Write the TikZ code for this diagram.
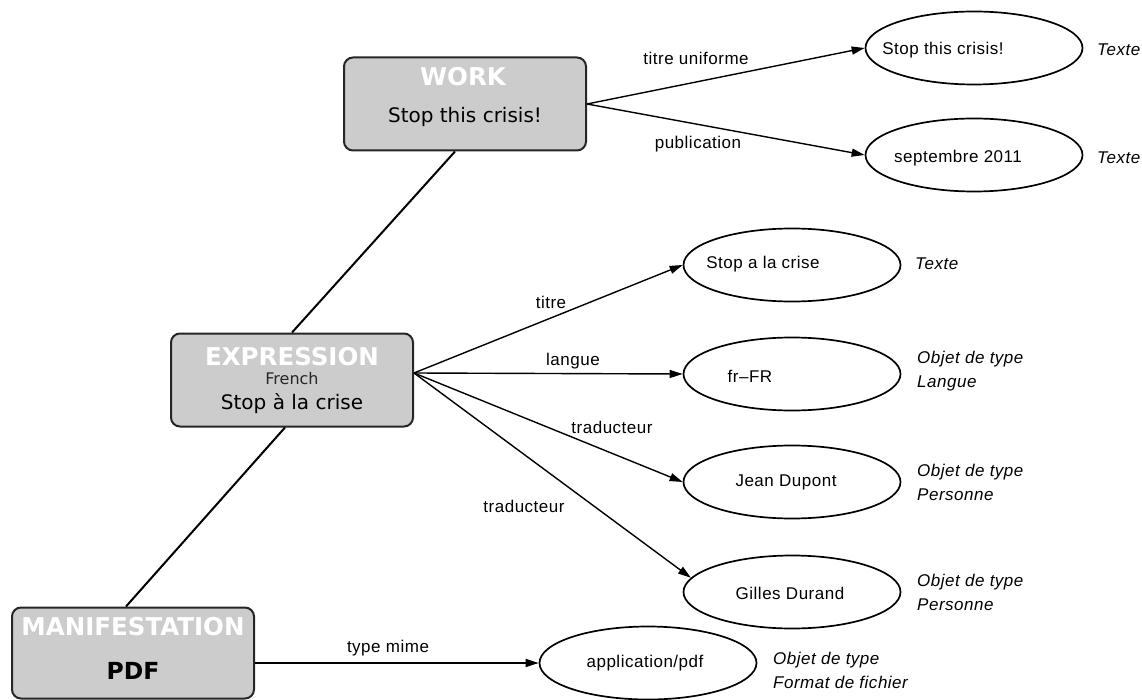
\documentclass[tikz,border=0pt]{standalone}
\usepackage{fontspec}
\setmainfont{Liberation Sans}[LetterSpace=3]
\newfontfamily\boxfont{DejaVu Sans}
\usetikzlibrary{arrows.meta,shapes.geometric,calc}

\begin{document}
\begin{tikzpicture}[x=1pt,y=-1pt,
  frbr/.style={draw=black!85, line width=2pt, fill=black!20, rounded corners=9pt,
               minimum width=242pt, minimum height=93pt, inner sep=0pt},
  val/.style={draw, ellipse, line width=1.7pt, minimum width=217pt, minimum height=73pt, inner sep=0pt},
  lbl/.style={font=\fontsize{17}{20}\selectfont, inner sep=0pt},
  typ/.style={font=\fontsize{17}{24}\selectfont\itshape, align=left, anchor=west, inner sep=0pt},
  rel/.style={line width=1.4pt, -{Triangle[length=13pt,width=8pt]}},
  link/.style={line width=2pt},
  ttl/.style={font=\boxfont\bfseries\fontsize{24.5}{28}\selectfont, text=white, inner sep=0pt},
  sub/.style={font=\boxfont\fontsize{20}{24}\selectfont, inner sep=0pt},
]
\useasboundingbox (0,0) rectangle (1142,700);

% FRBR entities
\node[frbr] (work)  at (465,104) {};
\node[frbr] (expr)  at (292,380) {};
\node[frbr, minimum height=91pt] (manif) at (133,653) {};

\node[ttl] (workT) at (463,77) {WORK};
\node[sub] (workS) at (465,117) {Stop this crisis!};
\node[ttl] (exprT) at (292,357) {EXPRESSION};
\node[sub, font=\boxfont\fontsize{16}{19}\selectfont, text=black!85] (exprL) at (292,379) {French};
\node[sub] (exprS) at (292,404) {Stop à la crise};
\node[ttl] (manifT) at (133,627) {MANIFESTATION};
\node[sub, font=\boxfont\bfseries\fontsize{23.5}{28}\selectfont] (manifS) at (133,671) {PDF};

% entity hierarchy
\draw[link] ([xshift=-10pt]work.south) -- (expr.north);
\draw[link] ([xshift=-7pt]expr.south) -- ([xshift=-7pt]manif.north);

% attribute values
\node[val] (e1) at (974,48)  {};
\node[val] (e2) at (974,155) {};
\node[val] (e3) at (792,265) {};
\node[val] (e4) at (792,374) {};
\node[val] (e5) at (792,482) {};
\node[val] (e6) at (792,592) {};
\node[val] (e7) at (648,663) {};

\node[lbl] (v1) at (943,50)  {Stop this crisis!};
\node[lbl] (v2) at (958,158) {septembre 2011};
\node[lbl] (v3) at (763,264) {Stop a la crise};
\node[lbl] (v4) at (750,376) {fr--FR};
\node[lbl] (v5) at (786,482) {Jean Dupont};
\node[lbl] (v6) at (790,593) {Gilles Durand};
\node[lbl] (v7) at (645,663) {application/pdf};

% value types
\node[typ] (t1) at (1097,50)  {Texte};
\node[typ] (t2) at (1097,158) {Texte};
\node[typ] (t3) at (915,264)  {Texte};
\node[typ] (t4) at (917,371)  {Objet de type\\Langue};
\node[typ] (t5) at (917,482)  {Objet de type\\Personne};
\node[typ] (t6) at (917,592)  {Objet de type\\Personne};
\node[typ] (t7) at (773,670)  {Objet de type\\Format de fichier};

% relations
\coordinate (xo) at ($(expr.east)+(0,-7)$);
\draw[rel] (work.east) -- (e1.west);
\draw[rel] (work.east) -- (e2.west);
\draw[rel] (xo) -- (e3.west);
\draw[rel] (xo) -- (e4.west);
\draw[rel] (xo) -- (e5.west);
\draw[rel] (xo) -- (e6.172);
\draw[rel] (manif.east |- e7) -- (e7.west);

\node[lbl] (r1) at (696,58)  {titre uniforme};
\node[lbl] (r2) at (698,144) {publication};
\node[lbl] (r3) at (551,302) {titre};
\node[lbl] (r4) at (573,361) {langue};
\node[lbl] (r5) at (612,427) {traducteur};
\node[lbl] (r6) at (524,506) {traducteur};
\node[lbl] (r7) at (388,648) {type mime};
\end{tikzpicture}
\end{document}
